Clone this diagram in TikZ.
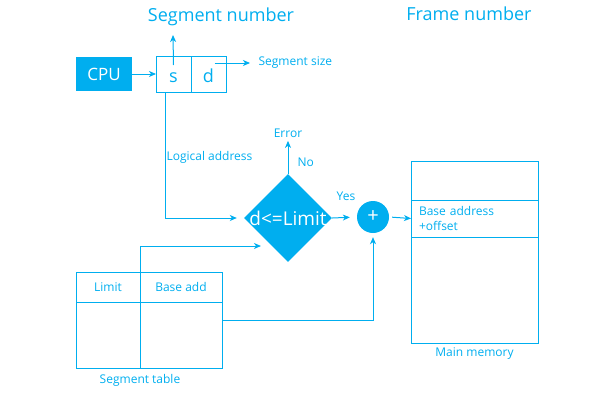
\documentclass[tikz,border=0pt]{standalone}
\usepackage{fontspec}
\setmainfont{Open Sans}
\usetikzlibrary{arrows.meta,positioning,shapes,shapes.geometric}
\usepackage{xcolor}
\definecolor{segblue}{HTML}{00AEEF}

\begin{document}
\begin{tikzpicture}[
        x=1pt, y=-1pt,
        node distance=1cm, auto,
        >={Stealth[length=7pt,width=6pt,inset=2pt]},
        every node/.style={text=segblue},
        line/.style={draw=segblue, line width=1pt},
        cell/.style={rectangle, draw=segblue, line width=1pt, outer sep=0pt, inner sep=0pt},
        small/.style={font=\fontsize{12}{15}\selectfont},
        big/.style={font=\fontsize{18}{20}\selectfont}
    ]
        \useasboundingbox (0,0) rectangle (596,407);

        \node (cpu) [
            rectangle,
            fill=segblue,
            text=white,
            minimum width=56pt,
            minimum height=34pt,
            font=\fontsize{17}{19}\selectfont
        ] at (104,74) {CPU};

        \node (s) [
            cell,
            minimum width=35pt,
            minimum height=36pt,
            text height=16pt,
            text depth=0pt,
            font=\fontsize{18}{20}\selectfont
        ] at (173.5,74) {s};

        \node (d) [
            cell,
            minimum width=35pt,
            minimum height=36pt,
            text height=16pt,
            text depth=0pt,
            font=\fontsize{18}{20}\selectfont,
            right=0pt of s
        ] {d};

        \node (segnum) [big] at (221,17) {Segment number};
        \node (framenum) [big] at (469,14) {Frame number};
        \node (segsize) [small, anchor=west] at (255,63) {Segment size};
        \coordinate (segtip) at (173,35);

        \node (dia) [
            diamond,
            fill=segblue,
            minimum width=88pt,
            minimum height=88pt,
            inner sep=0pt
        ] at (288,218) {};
        \node (cond) [
            text=white,
            inner sep=0pt,
            font=\fontsize{19}{21}\selectfont
        ] at (dia.center) {d<=Limit};

        \node (plus) [
            circle,
            fill=segblue,
            text=white,
            minimum size=32pt,
            inner sep=0pt,
            font=\fontsize{20}{22}\selectfont
        ] at (373,217) {+};

        \node (err) [small] at (288,133) {Error};
        \node (no) [small, anchor=west] at (294,162) {No};
        \node (yes) [small] at (346,196) {Yes};
        \node (logaddr) [small, anchor=west] at (163,157) {Logical address};

        \node (mem1) [
            cell,
            minimum width=127pt,
            minimum height=39pt
        ] at (474.5,180.5) {};
        \node (mem2) [
            cell,
            small,
            minimum width=127pt,
            minimum height=37pt,
            text width=111pt,
            inner xsep=8pt,
            inner ysep=2pt,
            align=left,
            below=0pt of mem1
        ] {Base address\\+offset};
        \node (mem3) [
            cell,
            minimum width=127pt,
            minimum height=106pt,
            below=0pt of mem2
        ] {};
        \node (mainmem) [small, below=1pt of mem3] {Main memory};

        \node (lim) [
            cell,
            small,
            minimum width=64pt,
            minimum height=30pt
        ] at (108,287) {Limit};
        \node (base) [
            cell,
            small,
            minimum width=82pt,
            minimum height=30pt,
            right=0pt of lim
        ] {Base add};
        \node (limrow) [
            cell,
            minimum width=64pt,
            minimum height=66pt,
            below=0pt of lim
        ] {};
        \node (baserow) [
            cell,
            minimum width=82pt,
            minimum height=66pt,
            below=0pt of base
        ] {};
        \node (segtab) [small, below=3pt of limrow.south east] {Segment table};
        \coordinate (limtip) at (261,246);

        \draw[line, ->] (cpu.east) -- (s.west);
        \draw[line, ->] ([yshift=9pt]s.center) -- (segtip);
        \draw[line, ->] ([xshift=6pt, yshift=11pt]d.center) -- ([xshift=-5pt]segsize.west);
        \draw[line, ->, shorten >=7pt] ([xshift=-8.5pt]s.south) |- (dia.west);
        \draw[line, ->] (dia.north) -- (err.south);
        \draw[line, ->, shorten >=7pt] (dia.east) -- (plus.west);
        \draw[line, ->, shorten <=3pt] (plus.east) -- (mem2.west);
        \draw[line, ->] (lim.north east) |- (limtip);
        \draw[line, ->, shorten >=4pt] ([yshift=15pt]baserow.east) -| (plus.south);
    \end{tikzpicture}
\end{document}
